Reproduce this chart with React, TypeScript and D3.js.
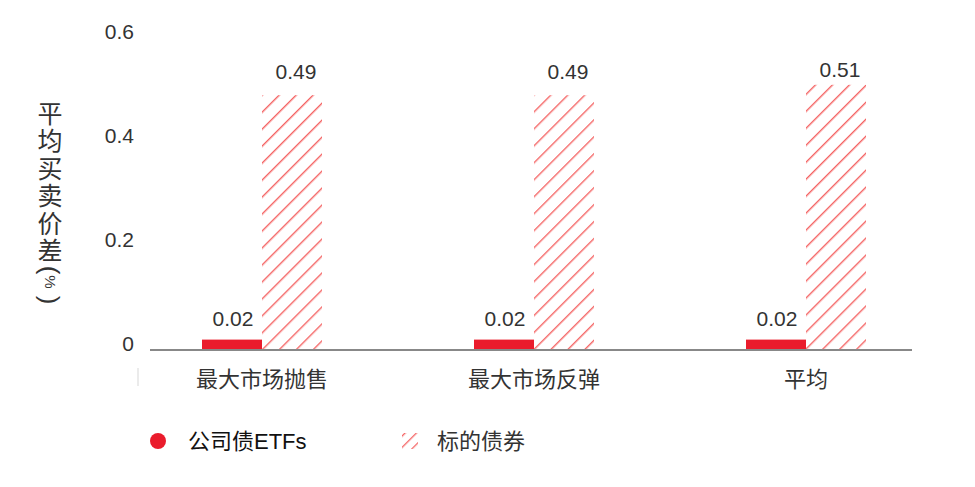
import React from "react";
import * as d3 from "d3";

const WIDTH = 975;
const HEIGHT = 487;

const categories = ["最大市场抛售", "最大市场反弹", "平均"];
const etfValues = [0.02, 0.02, 0.02];
const bondValues = [0.49, 0.49, 0.51];
const yTicks = [0, 0.2, 0.4, 0.6];
const seriesNames = ["公司债ETFs", "标的债券"];
const yTitle = "平均买卖价差";
const yUnit = ["(", "%", ")"];

const SOLID = "#ea1c2c";
const HATCH = "#f46464";
const FONT = "'Liberation Sans', Arial, 'Noto Sans CJK SC', sans-serif";
const CJK = "'Noto Sans CJK SC', sans-serif";

export default function App() {
  const x0 = d3.scaleBand().domain(categories).range([126, 942]).paddingInner(0);
  const barW = 60;
  const x1 = d3
    .scaleBand()
    .domain(["etf", "bond"])
    .range([x0.bandwidth() / 2 - barW, x0.bandwidth() / 2 + barW]);
  const y = d3.scaleLinear().domain([0, 0.6]).range([350, 38]);
  const labelTop = y(0.6) + 32;

  // vertical axis title: stacked characters, unit rotated like vertical text
  const titleX = 50;
  const titleY0 = 112;
  const titleStep = 27.4;
  const unitY = [270, 282, 300];

  return (
    <svg
      width={WIDTH}
      height={HEIGHT}
      style={{ position: "absolute", left: 0, top: 0, background: "#fff" }}
      fontFamily={FONT}
    >
      <defs>
        <pattern id="hatch" patternUnits="userSpaceOnUse" width="12" height="12" patternTransform="rotate(45)">
          <line x1="0" y1="0" x2="0" y2="12" stroke={HATCH} strokeWidth="2.8" />
        </pattern>
        <pattern id="hatchLegend" patternUnits="userSpaceOnUse" width="8" height="8" patternTransform="rotate(45)">
          <line x1="0" y1="0" x2="0" y2="8" stroke={HATCH} strokeWidth="2.6" />
        </pattern>
      </defs>

      {/* y tick labels */}
      {yTicks.map((t) => (
        <text
          key={t}
          x={134}
          y={y(t) - 6}
          dy="0.35em"
          textAnchor="end"
          fontSize={21}
          fill="#333"
        >
          {t === 0 ? "0" : d3.format(".1f")(t)}
        </text>
      ))}

      {/* y axis title */}
      <g fill="#333">
        <text textAnchor="middle" dominantBaseline="central" fontSize={25} fontFamily={CJK}>
          {yTitle.split("").map((ch, i) => (
            <tspan key={ch} x={titleX} y={titleY0 + i * titleStep}>
              {ch}
            </tspan>
          ))}
        </text>
        {yUnit.map((ch, i) => (
          <text
            key={ch}
            transform={`translate(${titleX},${unitY[i]}) rotate(90)`}
            textAnchor="middle"
            dominantBaseline="central"
            fontSize={ch === "%" ? 15 : 26}
            fontWeight={300}
            fontFamily={FONT}
          >
            {ch}
          </text>
        ))}
      </g>

      {/* bars */}
      {categories.map((c, i) => {
        const gx = x0(c) ?? 0;
        const ex = gx + (x1("etf") ?? 0);
        const bx = gx + (x1("bond") ?? 0);
        return (
          <g key={c}>
            <rect x={ex} y={y(etfValues[i])} width={barW} height={y(0) - y(etfValues[i])} fill={SOLID} />
            <rect x={bx} y={y(bondValues[i])} width={barW} height={y(0) - y(bondValues[i])} fill="url(#hatch)" />
            <text x={ex + barW / 2 + 1} y={y(etfValues[i]) - 21} dy="0.35em" textAnchor="middle" fontSize={21} fill="#333">
              {etfValues[i].toFixed(2)}
            </text>
            <text
              x={bx + barW / 2 + 4}
              y={Math.max(y(bondValues[i]) - 24, labelTop)}
              dy="0.35em"
              textAnchor="middle"
              fontSize={21}
              fill="#333"
            >
              {bondValues[i].toFixed(2)}
            </text>
            <text
              x={gx + x0.bandwidth() / 2}
              y={379}
              dy="0.35em"
              textAnchor="middle"
              fontSize={22}
              fill="#333"
              fontFamily={CJK}
            >
              {c}
            </text>
          </g>
        );
      })}

      {/* baseline */}
      <line x1={150} x2={912} y1={y(0)} y2={y(0)} stroke="#888" strokeWidth={2} />
      <line x1={138} x2={138} y1={368} y2={386} stroke="#e4e4e4" strokeWidth={1.5} />

      {/* legend */}
      <circle cx={158} cy={441} r={8} fill={SOLID} />
      <text x={188} y={441} dy="0.35em" fontSize={22} fill="#111" fontFamily={FONT}>
        {seriesNames[0]}
      </text>
      <rect x={402} y={433} width={16} height={16} fill="url(#hatchLegend)" />
      <text x={437} y={441} dy="0.35em" fontSize={22} fill="#333" fontFamily={CJK}>
        {seriesNames[1]}
      </text>
    </svg>
  );
}
